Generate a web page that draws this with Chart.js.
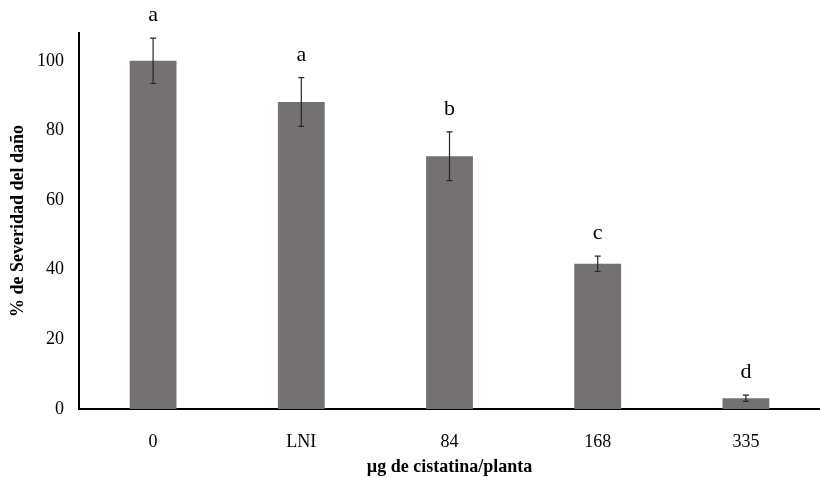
<!DOCTYPE html>
<html>
<head>
<meta charset="utf-8">
<script src="https://cdn.jsdelivr.net/npm/chart.js@4"></script>
<style>
  body { margin: 0; background: #fff; }
  #wrap { width: 820px; height: 478px; }
</style>
</head>
<body>
<div id="wrap"><canvas id="myChart"></canvas></div>
<script>
// data
const categories = ['0', 'LNI', '84', '168', '335'];
const severity = [100, 88.2, 72.6, 41.7, 3.1];
const errors = [6.5, 7.0, 7.0, 2.2, 0.9];
const letters = ['a', 'a', 'b', 'c', 'd'];
const yTicks = [0, 20, 40, 60, 80, 100];

// error bars + significance letters
const extras = {
    id: 'extras',
    afterDatasetsDraw(chart) {
        const ctx = chart.ctx;
        const x = chart.scales.x;
        const y = chart.scales.y;
        ctx.save();
        ctx.strokeStyle = '#262626';
        ctx.lineWidth = 1.2;
        severity.forEach((v, i) => {
            const cx = x.getPixelForValue(i);
            const top = y.getPixelForValue(v + errors[i]);
            const bot = y.getPixelForValue(v - errors[i]);
            ctx.beginPath();
            ctx.moveTo(cx, top); ctx.lineTo(cx, bot);
            ctx.moveTo(cx - 3, top); ctx.lineTo(cx + 3, top);
            ctx.moveTo(cx - 3, bot); ctx.lineTo(cx + 3, bot);
            ctx.stroke();
            ctx.fillStyle = '#000';
            ctx.font = '22px "Liberation Serif"';
            ctx.textAlign = 'center';
            ctx.textBaseline = 'alphabetic';
            ctx.fillText(letters[i], cx, top - 17);
        });
        ctx.restore();
    }
};

new Chart("myChart", {
    type: 'bar',
    data: {
        labels: categories,
        datasets: [{
            data: severity,
            backgroundColor: '#767171',
            categoryPercentage: 1,
            barPercentage: 0.316
        }]
    },
    options: {
        responsive: true,
        maintainAspectRatio: false,
        animation: false,
        layout: { padding: { top: 33, right: 0, left: 0, bottom: 0 } },
        plugins: { legend: { display: false }, tooltip: { enabled: false } },
        scales: {
            x: {
                grid: { display: false, drawTicks: false },
                border: { color: '#000', width: 2 },
                ticks: { color: '#000', padding: 22, font: { family: 'Liberation Serif', size: 18 } },
                title: {
                    display: true, text: 'µg de cistatina/planta', color: '#000',
                    padding: { top: 4, bottom: 0 },
                    font: { family: 'Liberation Serif', size: 18, weight: 'bold' }
                },
                afterFit(axis) { axis.height = 69; }
            },
            y: {
                min: 0,
                max: 108,
                grid: { display: false, drawTicks: false },
                border: { color: '#000', width: 2 },
                ticks: { color: '#000', padding: 15, font: { family: 'Liberation Serif', size: 18 } },
                afterBuildTicks(axis) { axis.ticks = yTicks.map(v => ({ value: v })); },
                title: {
                    display: true, text: '% de Severidad del daño', color: '#000',
                    padding: { top: 8, bottom: 4 },
                    font: { family: 'Liberation Serif', size: 18, weight: 'bold' }
                },
                afterFit(axis) { axis.width = 79; }
            }
        }
    },
    plugins: [extras]
});
</script>
</body>
</html>
